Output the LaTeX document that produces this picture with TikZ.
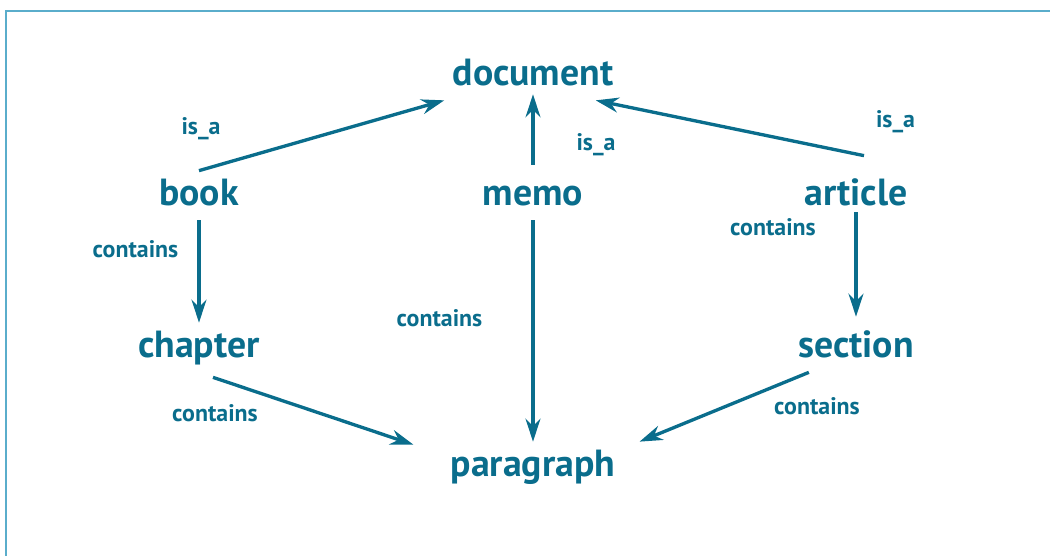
\documentclass[tikz,border=0pt]{standalone}
\usepackage{fontspec}
\setmainfont{PT Sans}
\usetikzlibrary{arrows.meta, positioning}
\definecolor{docblue}{HTML}{0A6D8C}
\definecolor{frameblue}{HTML}{5AADCB}
\tikzset{
  concept/.style = {font=\fontsize{21.5}{26}\selectfont\bfseries, text=docblue, inner xsep=0.16cm, inner ysep=0.14cm, text height=0.56cm, text depth=0.14cm},
  relation/.style = {font=\fontsize{13.6}{16}\selectfont\bfseries, text=docblue, inner sep=0pt, anchor=base},
  link/.style = {-{Stealth[length=0.46cm, width=0.3cm, inset=0.15cm]}, line width=1.9pt, docblue},
  framebox/.style = {line width=0.04cm, frameblue}
}

\begin{document}
\begin{tikzpicture}[on grid]
  \useasboundingbox (0,0) rectangle (21,-11.12);
  \draw[framebox] (0.12,-11.12) -- (0.12,-0.216) -- (21,-0.216);

  % Concepts
  \node (document) [concept, anchor=base] at (10.66,-1.72) {document};
  \node (memo) [concept, below=2.4cm of document] {memo};
  \node (book) [concept, left=6.68cm of memo] {book};
  \node (article) [concept, right=6.46cm of memo] {article};
  \node (chapter) [concept, below=3.04cm of book] {chapter};
  \node (section) [concept, below=3.04cm of article] {section};
  \node (paragraph) [concept, below=5.42cm of memo] {paragraph};

  % is_a links
  \draw[link] (book.north) -- (document.south west);
  \draw[link, shorten <=0.12cm] (memo.north) -- ([yshift=0.12cm]document.south);
  \draw[link] ([shift={(0.16,0.3)}]article.north) -- ([xshift=-0.52cm]document.south east);

  % contains links
  \draw[link] (book.south) -- (chapter.north);
  \draw[link] (memo.south) -- (paragraph.north);
  \draw[link] ([yshift=0.16cm]article.south) -- ([yshift=0.12cm]section.north);
  \draw[link] ([shift={(0.28,-0.1)}]chapter.south) -- ([shift={(-0.58,-0.06)}]paragraph.north west);
  \draw[link] ([xshift=0.38cm]section.south west) -- ([xshift=0.32cm]paragraph.north east);

  % Relation labels
  \node (isa-book) [relation] at (4.02,-2.70) {is\_a};
  \node (isa-memo) [relation] at (11.92,-3.02) {is\_a};
  \node (isa-article) [relation] at (17.91,-2.56) {is\_a};
  \node (has-book) [relation] at (2.71,-5.16) {contains};
  \node (has-memo) [relation] at (8.79,-6.54) {contains};
  \node (has-article) [relation] at (15.46,-4.72) {contains};
  \node (has-chapter) [relation] at (4.30,-8.44) {contains};
  \node (has-section) [relation] at (16.34,-8.30) {contains};
\end{tikzpicture}
\end{document}
